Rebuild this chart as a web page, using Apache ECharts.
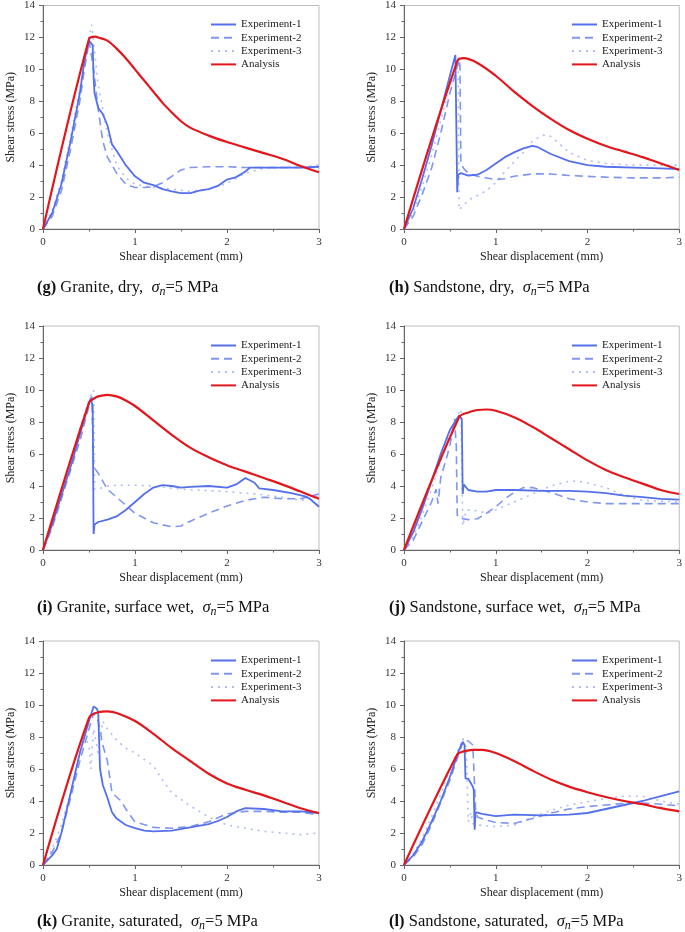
<!DOCTYPE html>
<html>
<head>
<meta charset="utf-8">
<title>Shear stress vs displacement</title>
<script src="https://cdn.jsdelivr.net/npm/echarts@6/dist/echarts.min.js"></script>
<style>
  html, body { margin: 0; padding: 0; background: #fff; }
  #chart { width: 685px; height: 932px; }
</style>
</head>
<body>
<div id="chart"></div>
<script>
// series names + captions
var names = ["Experiment-1", "Experiment-2", "Experiment-3", "Analysis"];
var rocks = ["Granite, dry,", "Sandstone, dry,", "Granite, surface wet,", "Sandstone, surface wet,", "Granite, saturated,", "Sandstone, saturated,"];
var tags = ["g", "h", "i", "j", "k", "l"];
var xTicks = [0, 1, 2, 3];
var yTicks = [0, 2, 4, 6, 8, 10, 12, 14];

// (g) granite dry
var gExp1 = [[0,0],[0.1,1.0],[0.2,2.8],[0.3,5.5],[0.4,8.5],[0.45,10.5],[0.5,11.8],[0.52,11.9],[0.54,11.5],[0.55,9.5],[0.56,8.5],[0.6,7.6],[0.65,7.2],[0.7,6.5],[0.75,5.3],[0.8,4.9],[0.9,4.0],[1.0,3.3],[1.1,2.9],[1.2,2.75],[1.3,2.5],[1.4,2.35],[1.5,2.25],[1.6,2.25],[1.7,2.4],[1.8,2.5],[1.9,2.7],[2.0,3.1],[2.1,3.25],[2.2,3.6],[2.25,3.85],[2.4,3.85],[2.6,3.85],[2.8,3.85],[3.0,3.9]];
var gExp2 = [[0,0],[0.1,0.8],[0.2,2.4],[0.3,5.0],[0.4,8.0],[0.45,10.0],[0.48,11.0],[0.5,11.8],[0.55,10.0],[0.6,7.5],[0.65,5.5],[0.7,4.5],[0.8,3.5],[0.9,2.8],[1.0,2.6],[1.1,2.6],[1.2,2.65],[1.3,2.9],[1.4,3.3],[1.5,3.7],[1.6,3.85],[1.8,3.9],[2.0,3.9],[2.2,3.85],[2.4,3.85],[2.6,3.85],[2.8,3.85],[3.0,3.85]];
var gExp3 = [[0,0],[0.1,1.2],[0.2,3.0],[0.3,5.8],[0.4,8.8],[0.48,11.5],[0.53,12.8],[0.6,9.0],[0.65,7.5],[0.7,6.0],[0.8,4.0],[0.9,3.2],[1.0,2.8],[1.2,2.6],[1.4,2.5],[1.6,2.35],[1.8,2.5],[2.0,2.85],[2.2,3.5],[2.4,3.8],[2.6,3.85],[2.8,3.9],[3.0,4.0]];
var gAna = [[0,0],[0.5,11.9],[0.57,12.05],[0.6,12.0],[0.7,11.8],[0.8,11.3],[0.9,10.7],[1.0,10.0],[1.1,9.3],[1.2,8.6],[1.3,7.9],[1.4,7.3],[1.5,6.75],[1.6,6.35],[1.8,5.85],[2.0,5.45],[2.2,5.1],[2.4,4.75],[2.6,4.4],[2.8,3.95],[3.0,3.55]];

// (h) sandstone dry
var hExp1 = [[0,0],[0.1,1.3],[0.2,3.2],[0.3,5.2],[0.4,7.4],[0.5,9.6],[0.56,10.9],[0.57,10.8],[0.58,2.3],[0.59,3.4],[0.62,3.5],[0.7,3.35],[0.8,3.4],[0.9,3.7],[1.0,4.1],[1.1,4.5],[1.2,4.8],[1.3,5.05],[1.4,5.2],[1.45,5.15],[1.6,4.7],[1.8,4.25],[2.0,4.0],[2.2,3.9],[2.5,3.85],[2.8,3.8],[3.0,3.75]];
var hExp2 = [[0,0],[0.1,0.8],[0.2,2.2],[0.3,3.8],[0.4,6.0],[0.5,8.5],[0.6,10.6],[0.61,10.2],[0.62,4.1],[0.65,3.8],[0.7,3.5],[0.8,3.3],[0.9,3.2],[1.0,3.1],[1.1,3.15],[1.2,3.3],[1.4,3.45],[1.6,3.45],[1.8,3.35],[2.0,3.3],[2.2,3.25],[2.5,3.2],[2.8,3.2],[3.0,3.25]];
var hExp3 = [[0,0],[0.1,1.0],[0.2,2.7],[0.3,4.6],[0.4,6.8],[0.5,9.0],[0.59,10.8],[0.6,1.2],[0.7,1.8],[0.8,2.1],[0.9,2.4],[1.0,2.9],[1.1,3.6],[1.2,4.2],[1.3,4.8],[1.4,5.5],[1.5,5.85],[1.55,5.9],[1.6,5.8],[1.7,5.3],[1.8,4.8],[2.0,4.3],[2.2,4.1],[2.5,4.0],[2.8,4.0],[3.0,4.0]];
var hAna = [[0,0],[0.58,10.5],[0.65,10.7],[0.8,10.4],[1.0,9.6],[1.2,8.6],[1.4,7.7],[1.6,6.9],[1.8,6.2],[2.0,5.65],[2.2,5.2],[2.4,4.85],[2.6,4.5],[2.8,4.1],[3.0,3.7]];

// (i) granite surface wet
var iExp1 = [[0,0],[0.1,1.6],[0.2,3.4],[0.3,5.2],[0.4,7.2],[0.5,9.2],[0.52,9.5],[0.54,9.0],[0.55,1.0],[0.56,1.6],[0.6,1.75],[0.7,1.9],[0.8,2.1],[0.9,2.5],[1.0,3.0],[1.1,3.5],[1.2,3.9],[1.3,4.05],[1.4,4.0],[1.5,3.9],[1.6,3.95],[1.8,4.0],[2.0,3.9],[2.1,4.1],[2.2,4.5],[2.3,4.2],[2.35,3.85],[2.5,3.75],[2.7,3.55],[2.85,3.35],[2.9,3.2],[3.0,2.7]];
var iExp2 = [[0,0],[0.1,1.4],[0.2,3.2],[0.3,5.0],[0.4,6.8],[0.5,9.0],[0.53,9.6],[0.55,5.2],[0.6,4.8],[0.7,3.8],[0.8,3.3],[0.9,2.8],[1.0,2.3],[1.2,1.7],[1.4,1.45],[1.5,1.5],[1.6,1.8],[1.8,2.3],[2.0,2.75],[2.2,3.1],[2.4,3.3],[2.6,3.2],[2.8,3.2],[3.0,3.5]];
var iExp3 = [[0,0],[0.1,1.7],[0.2,3.6],[0.3,5.6],[0.4,7.6],[0.5,9.4],[0.55,10.0],[0.56,3.8],[0.6,3.8],[0.7,4.0],[0.8,4.05],[1.0,4.05],[1.2,4.0],[1.5,3.8],[2.0,3.65],[2.4,3.45],[2.6,3.3],[2.8,3.1],[3.0,3.35]];
var iAna = [[0,0],[0.5,9.2],[0.55,9.45],[0.6,9.6],[0.7,9.7],[0.8,9.6],[0.9,9.35],[1.0,9.0],[1.2,8.1],[1.4,7.2],[1.6,6.4],[1.8,5.8],[2.0,5.3],[2.2,4.9],[2.4,4.5],[2.6,4.1],[2.8,3.65],[3.0,3.2]];

// (j) sandstone surface wet
var jExp1 = [[0,0],[0.1,1.1],[0.2,2.6],[0.3,4.3],[0.4,6.0],[0.5,7.5],[0.6,8.4],[0.63,8.2],[0.64,3.5],[0.65,4.1],[0.7,3.75],[0.8,3.65],[0.9,3.65],[1.0,3.75],[1.2,3.75],[1.5,3.7],[1.8,3.7],[2.0,3.65],[2.2,3.55],[2.4,3.4],[2.6,3.3],[2.8,3.2],[3.0,3.15]];
var jExp2 = [[0,0],[0.1,0.6],[0.2,1.8],[0.3,3.0],[0.35,3.8],[0.37,2.9],[0.4,4.5],[0.5,6.5],[0.55,8.2],[0.57,6.5],[0.58,2.2],[0.6,2.0],[0.7,1.9],[0.8,1.95],[0.9,2.3],[1.0,2.7],[1.1,3.2],[1.2,3.6],[1.3,3.9],[1.4,3.9],[1.6,3.6],[1.8,3.2],[2.0,3.0],[2.2,2.9],[2.5,2.9],[2.8,2.9],[3.0,2.9]];
var jExp3 = [[0,0],[0.1,0.8],[0.2,2.2],[0.3,3.8],[0.4,5.6],[0.5,7.4],[0.62,8.8],[0.64,1.5],[0.68,2.5],[0.8,2.45],[0.9,2.3],[1.0,2.5],[1.2,3.0],[1.4,3.5],[1.6,4.0],[1.8,4.3],[1.9,4.3],[2.0,4.2],[2.2,3.9],[2.4,3.4],[2.6,3.1],[3.0,3.0]];
var jAna = [[0,0],[0.6,8.3],[0.7,8.6],[0.8,8.75],[0.9,8.78],[1.0,8.7],[1.2,8.3],[1.4,7.7],[1.6,7.0],[1.8,6.3],[2.0,5.6],[2.2,5.0],[2.4,4.55],[2.6,4.15],[2.8,3.75],[3.0,3.5]];

// (k) granite saturated
var kExp1 = [[0,0],[0.05,0.3],[0.1,0.6],[0.15,1.0],[0.2,2.0],[0.3,4.5],[0.4,7.0],[0.5,9.0],[0.55,9.9],[0.58,9.8],[0.6,9.6],[0.62,6.0],[0.65,5.0],[0.7,4.2],[0.75,3.3],[0.8,2.9],[0.9,2.5],[1.0,2.3],[1.1,2.15],[1.2,2.1],[1.4,2.15],[1.6,2.35],[1.8,2.55],[1.9,2.75],[2.0,3.0],[2.1,3.35],[2.2,3.55],[2.4,3.5],[2.6,3.35],[2.8,3.35],[3.0,3.25]];
var kExp2 = [[0,0],[0.1,0.8],[0.2,2.0],[0.3,4.2],[0.4,6.5],[0.5,8.5],[0.55,9.5],[0.6,9.0],[0.65,7.5],[0.7,6.5],[0.75,4.5],[0.85,4.0],[0.9,3.5],[1.0,2.7],[1.2,2.35],[1.4,2.3],[1.6,2.4],[1.8,2.7],[2.0,3.2],[2.2,3.35],[2.4,3.35],[2.6,3.3],[2.8,3.3],[3.0,3.15]];
var kExp3 = [[0,0],[0.1,1.0],[0.2,2.5],[0.3,4.5],[0.4,7.0],[0.45,8.0],[0.5,7.5],[0.52,6.0],[0.55,8.5],[0.6,7.0],[0.65,9.0],[0.7,8.5],[0.8,7.8],[0.9,7.3],[1.0,7.0],[1.1,6.6],[1.2,6.2],[1.3,5.3],[1.4,4.5],[1.6,3.7],[1.8,3.0],[2.0,2.5],[2.2,2.3],[2.4,2.1],[2.6,2.0],[2.8,1.9],[3.0,2.0]];
var kAna = [[0,0],[0.5,9.2],[0.6,9.55],[0.7,9.6],[0.8,9.5],[1.0,9.0],[1.2,8.2],[1.4,7.3],[1.6,6.5],[1.8,5.7],[2.0,5.1],[2.2,4.7],[2.4,4.35],[2.6,3.95],[2.8,3.55],[3.0,3.25]];

// (l) sandstone saturated
var lExp1 = [[0,0],[0.1,0.6],[0.2,1.5],[0.3,2.7],[0.4,4.0],[0.5,5.5],[0.6,7.2],[0.64,7.7],[0.66,7.5],[0.67,5.4],[0.7,5.4],[0.72,5.2],[0.75,4.9],[0.76,4.7],[0.77,2.2],[0.78,3.3],[0.85,3.2],[1.0,3.05],[1.2,3.15],[1.5,3.1],[1.8,3.15],[2.0,3.25],[2.2,3.5],[2.4,3.75],[2.6,4.0],[2.8,4.3],[3.0,4.6]];
var lExp2 = [[0,0],[0.1,0.5],[0.2,1.3],[0.3,2.5],[0.4,3.9],[0.5,5.3],[0.6,7.0],[0.65,7.8],[0.7,7.75],[0.75,7.5],[0.78,3.5],[0.8,3.0],[0.9,2.8],[1.0,2.65],[1.2,2.6],[1.4,2.9],[1.6,3.25],[1.8,3.5],[2.0,3.65],[2.2,3.75],[2.5,3.9],[2.8,3.8],[3.0,3.7]];
var lExp3 = [[0,0],[0.1,0.7],[0.2,1.7],[0.3,3.0],[0.4,4.4],[0.5,6.0],[0.6,7.3],[0.64,7.9],[0.68,7.3],[0.7,2.7],[0.73,3.3],[0.75,2.6],[0.8,2.5],[1.0,2.4],[1.2,2.5],[1.4,3.0],[1.6,3.4],[1.8,3.75],[2.0,3.95],[2.2,4.15],[2.4,4.3],[2.6,4.3],[2.8,4.0],[3.0,3.8]];
var lAna = [[0,0],[0.58,6.9],[0.65,7.1],[0.75,7.2],[0.85,7.2],[1.0,7.0],[1.2,6.5],[1.4,5.9],[1.6,5.35],[1.8,4.9],[2.0,4.55],[2.2,4.25],[2.4,4.0],[2.6,3.8],[2.8,3.55],[3.0,3.35]];

(function () {
  var panels = [
    [gExp1, gExp2, gExp3, gAna],
    [hExp1, hExp2, hExp3, hAna],
    [iExp1, iExp2, iExp3, iAna],
    [jExp1, jExp2, jExp3, jAna],
    [kExp1, kExp2, kExp3, kAna],
    [lExp1, lExp2, lExp3, lAna]
  ];
  var serif = "Liberation Serif";
  var colLeft = [43, 404];
  var rowTop = [5, 326, 641];
  var capTop = [278, 598, 912];
  var lineStyles = [
    { color: "#5470ec", width: 1.8, type: "solid" },
    { color: "#7f96f2", width: 1.6, type: [8, 5] },
    { color: "#b0bdf6", width: 1.6, type: [2, 5] },
    { color: "#e3161b", width: 2.2, type: "solid" }
  ];

  var grids = [], xAxes = [], yAxes = [], series = [], legends = [], graphics = [];
  panels.forEach(function (p, idx) {
    var c = idx % 2, r = Math.floor(idx / 2);
    grids.push({
      left: colLeft[c], top: rowTop[r], width: 276, height: 224,
      show: true, borderColor: "#bdbdbd", borderWidth: 1
    });
    xAxes.push({
      gridIndex: idx, type: "value", min: xTicks[0], max: xTicks[xTicks.length - 1], interval: 1,
      name: "Shear displacement (mm)", nameLocation: "middle", nameGap: 22,
      nameTextStyle: { fontFamily: serif, fontSize: 12, color: "#222" },
      axisLine: { show: true, lineStyle: { color: "#666", width: 1 } },
      axisTick: { show: true, length: 4, lineStyle: { color: "#666" } },
      minorTick: { show: true, splitNumber: 2, length: 2.5, lineStyle: { color: "#666" } },
      axisLabel: { fontFamily: serif, fontSize: 11, color: "#333", margin: 8 },
      splitLine: { show: false }
    });
    yAxes.push({
      gridIndex: idx, type: "value", min: yTicks[0], max: yTicks[yTicks.length - 1], interval: 2,
      name: "Shear stress (MPa)", nameLocation: "middle", nameGap: 26,
      nameTextStyle: { fontFamily: serif, fontSize: 12, color: "#222" },
      axisLine: { show: true, lineStyle: { color: "#666", width: 1 } },
      axisTick: { show: true, length: 4, lineStyle: { color: "#666" } },
      minorTick: { show: true, splitNumber: 2, length: 2.5, lineStyle: { color: "#666" } },
      axisLabel: { fontFamily: serif, fontSize: 11, color: "#333", margin: 8 },
      splitLine: { show: false }
    });
    p.forEach(function (d, k) {
      series.push({
        name: names[k], type: "line", xAxisIndex: idx, yAxisIndex: idx,
        data: d, showSymbol: false, symbol: "none",
        smooth: k === 3 ? 0.35 : false,
        lineStyle: lineStyles[k], itemStyle: { color: lineStyles[k].color },
        z: k === 3 ? 3 : 2 - k / 10
      });
    });
    legends.push({
      orient: "vertical", left: colLeft[c] + 167, top: rowTop[r] + 13, padding: 0,
      selectedMode: false, itemWidth: 25, itemHeight: 10, itemGap: 0.3,
      itemStyle: { opacity: 0 },
      data: names,
      textStyle: { fontFamily: serif, fontSize: 11, color: "#222", lineHeight: 13 }
    });
    graphics.push({
      type: "text", left: c === 0 ? 37 : 389, top: capTop[r],
      style: {
        text: "{b|(" + tags[idx] + ")} " + rocks[idx] + "  {i|σ}{s|n}=5 MPa",
        fontFamily: serif, fontSize: 16.5, fill: "#111", lineHeight: 20,
        rich: {
          b: { fontFamily: serif, fontSize: 16.5, fontWeight: "bold", lineHeight: 20 },
          i: { fontFamily: serif, fontSize: 16.5, fontStyle: "italic", lineHeight: 20 },
          s: { fontFamily: serif, fontSize: 12, fontStyle: "italic", lineHeight: 20, verticalAlign: "bottom" }
        }
      }
    });
  });

  var option = {
    animation: false,
    backgroundColor: "#fff",
    grid: grids, xAxis: xAxes, yAxis: yAxes,
    legend: legends, series: series, graphic: graphics
  };
  var myChart = echarts.init(document.getElementById("chart"), null, { renderer: "canvas" });
  myChart.setOption(option);
})();
</script>
</body>
</html>
